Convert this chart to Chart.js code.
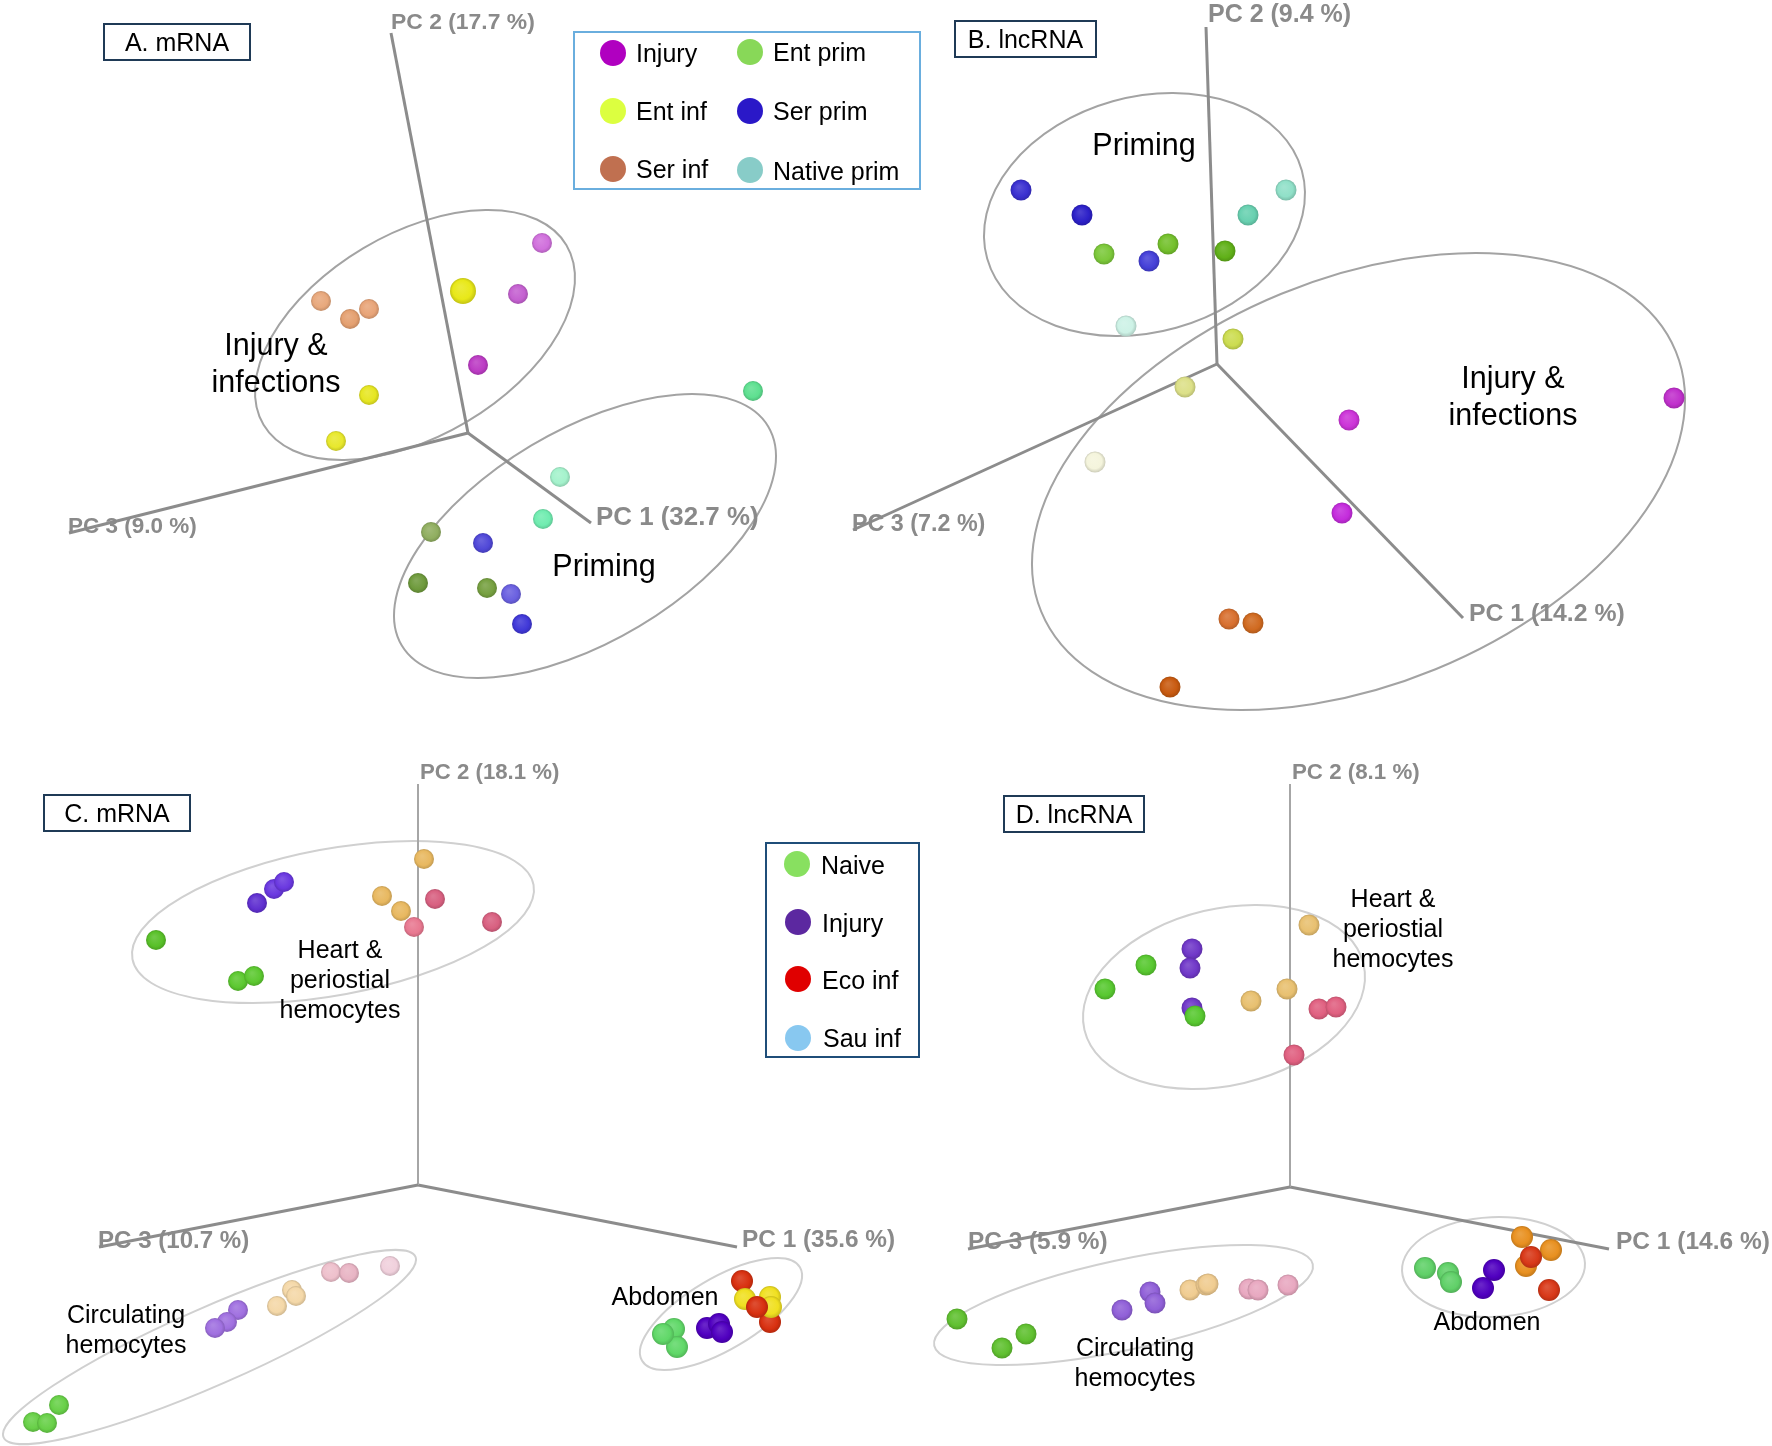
<!DOCTYPE html>
<html>
<head>
<meta charset="utf-8">
<title>PCA of hemocyte transcriptomes</title>
<script src="https://cdn.jsdelivr.net/npm/chart.js@4"></script>
<style>
    html, body { margin: 0; padding: 0; background: #fff; }
    #page { position: relative; width: 1772px; height: 1446px; overflow: hidden; font-family: "Liberation Sans", Arial, sans-serif; color: #000; }
    canvas { position: absolute; }
    #page div { position: absolute; white-space: nowrap; }
    .pc { font-size: 22.5px; font-weight: bold; color: #8a8a8a; transform: translateY(-50%); }
    .title { box-sizing: border-box; border: 2px solid #1f3a56; font-size: 25px; display: flex; align-items: center; justify-content: center; }
    .big { font-size: 30.5px; line-height: 37px; text-align: center; transform: translate(-50%, -50%); }
    .small { font-size: 25px; line-height: 30px; text-align: center; transform: translate(-50%, -50%); }
    .legend { box-sizing: border-box; }
    .dot { width: 26px; height: 26px; border-radius: 50%; transform: translate(-50%, -50%); }
    .key { font-size: 25px; transform: translateY(-50%); }
</style>
</head>
<body>
<div id="page">
    <canvas id="panelA" width="820" height="730" style="left:0;top:0"></canvas>
    <canvas id="panelB" width="952" height="730" style="left:820px;top:0"></canvas>
    <canvas id="panelC" width="860" height="716" style="left:0;top:730px"></canvas>
    <canvas id="panelD" width="912" height="716" style="left:860px;top:730px"></canvas>

    <div class="title" style="left:103px;top:23px;width:148px;height:38px">A. mRNA</div>
    <div class="title" style="left:954px;top:20px;width:143px;height:38px">B. lncRNA</div>
    <div class="title" style="left:43px;top:794px;width:148px;height:38px">C. mRNA</div>
    <div class="title" style="left:1003px;top:795px;width:142px;height:38px">D. lncRNA</div>

    <div class="pc" style="left:391px;top:21px;font-size:22.9px">PC 2 (17.7 %)</div>
    <div class="pc" style="left:596px;top:516px;font-size:25.9px">PC 1 (32.7 %)</div>
    <div class="pc" style="left:68px;top:526px;font-size:22.5px">PC 3 (9.0 %)</div>
    <div class="pc" style="left:1208px;top:13px;font-size:25px">PC 2 (9.4 %)</div>
    <div class="pc" style="left:1469px;top:613px;font-size:24.8px">PC 1 (14.2 %)</div>
    <div class="pc" style="left:852px;top:523px;font-size:23.3px">PC 3 (7.2 %)</div>
    <div class="pc" style="left:420px;top:772px;font-size:22.2px">PC 2 (18.1 %)</div>
    <div class="pc" style="left:742px;top:1239px;font-size:24.4px">PC 1 (35.6 %)</div>
    <div class="pc" style="left:98px;top:1240px;font-size:24.1px">PC 3 (10.7 %)</div>
    <div class="pc" style="left:1292px;top:772px;font-size:22.3px">PC 2 (8.1 %)</div>
    <div class="pc" style="left:1616px;top:1241px;font-size:24.5px">PC 1 (14.6 %)</div>
    <div class="pc" style="left:968px;top:1241px;font-size:24.4px">PC 3 (5.9 %)</div>

    <div class="big" style="left:276px;top:363px">Injury &amp;<br>infections</div>
    <div class="big" style="left:604px;top:565px">Priming</div>
    <div class="big" style="left:1144px;top:144px">Priming</div>
    <div class="big" style="left:1513px;top:396px">Injury &amp;<br>infections</div>

    <div class="small" style="left:340px;top:979px">Heart &amp;<br>periostial<br>hemocytes</div>
    <div class="small" style="left:126px;top:1329px">Circulating<br>hemocytes</div>
    <div class="small" style="left:665px;top:1296px">Abdomen</div>
    <div class="small" style="left:1393px;top:928px">Heart &amp;<br>periostial<br>hemocytes</div>
    <div class="small" style="left:1135px;top:1362px">Circulating<br>hemocytes</div>
    <div class="small" style="left:1487px;top:1321px">Abdomen</div>

    <div class="legend" style="left:573px;top:31px;width:348px;height:159px;border:2.5px solid #6aaede"></div>
    <div class="dot" style="left:613px;top:53px;background:#b000c0"></div>
    <div class="key" style="left:636px;top:53px">Injury</div>
    <div class="dot" style="left:750px;top:52px;background:#88d858"></div>
    <div class="key" style="left:773px;top:52px">Ent prim</div>
    <div class="dot" style="left:613px;top:111px;background:#dcff40"></div>
    <div class="key" style="left:636px;top:111px">Ent inf</div>
    <div class="dot" style="left:750px;top:111px;background:#2a18c8"></div>
    <div class="key" style="left:773px;top:111px">Ser prim</div>
    <div class="dot" style="left:613px;top:169px;background:#c07050"></div>
    <div class="key" style="left:636px;top:169px">Ser inf</div>
    <div class="dot" style="left:750px;top:170px;background:#88ccc8"></div>
    <div class="key" style="left:773px;top:171px">Native prim</div>

    <div class="legend" style="left:765px;top:842px;width:155px;height:216px;border:2.5px solid #1f4e79"></div>
    <div class="dot" style="left:797px;top:864px;background:#88e060"></div>
    <div class="key" style="left:821px;top:865px">Naive</div>
    <div class="dot" style="left:798px;top:922px;background:#5c28a0"></div>
    <div class="key" style="left:822px;top:923px">Injury</div>
    <div class="dot" style="left:798px;top:979px;background:#e00000"></div>
    <div class="key" style="left:822px;top:980px">Eco inf</div>
    <div class="dot" style="left:798px;top:1038px;background:#88c8f0"></div>
    <div class="key" style="left:823px;top:1038px">Sau inf</div>
</div>

<script>
// projected scores, one list per group, origin of each panel = where the PC axes meet
// hull lists are [center x, center y, half width, half height, x offset of the top point]

// A. mRNA
const aAxis1 = [[0, 0], [123, -90]];
const aAxis2 = [[0, 0], [-77, 400]];
const aAxis3 = [[0, 0], [-399, -100]];
const aInjury = [[74, 190], [50, 139], [10, 68]];
const aEntInf = [[-5, 142], [-99, 38], [-132, -8]];
const aSerInf = [[-147, 132], [-99, 124], [-118, 114]];
const aEntPrim = [[-37, -99], [-50, -150], [19, -155]];
const aSerPrim = [[15, -110], [43, -161], [54, -191]];
const aNativePrim = [[285, 42], [92, -44], [75, -86]];
const aHullInfection = [-53, 98, 160, 125, 73];
const aHullPriming = [117, -103, 191, 142, 107];

// B. lncRNA
const bAxis1 = [[0, 0], [246, -254]];
const bAxis2 = [[0, 0], [-11, 337]];
const bAxis3 = [[0, 0], [-364, -166]];
const bInjury = [[132, -56], [125, -149], [457, -34]];
const bEntInf = [[16, 25], [-32, -23], [-122, -98]];
const bSerInf = [[12, -255], [36, -259], [-47, -323]];
const bEntPrim = [[-113, 110], [-49, 120], [8, 113]];
const bSerPrim = [[-196, 174], [-135, 149], [-68, 103]];
const bNativePrim = [[69, 174], [31, 149], [-91, 38]];
const bHullPriming = [-72.5, 149.5, 160.5, 121.5, 27.5];
const bHullInfection = [141.5, -117.5, 326.5, 228.5, 117.5];

// C. mRNA
const cAxis1 = [[0, 0], [319, -62]];
const cAxis2 = [[0, 0], [0, 401]];
const cAxis3 = [[0, 0], [-319, -62]];
const cHeartNaive = [[-262, 245], [-180, 204], [-164, 209]];
const cHeartInjury = [[-161, 282], [-144, 296], [-134, 303]];
const cHeartSau = [[6, 326], [-36, 289], [-17, 274]];
const cHeartEco = [[17, 286], [74, 263], [-4, 258]];
const cCircNaive = [[-359, -220], [-385, -237], [-371, -238]];
const cCircInjury = [[-180, -125], [-191, -137], [-203, -143]];
const cCircSau = [[-126, -105], [-122, -111], [-141, -121]];
const cCircEco = [[-87, -87], [-69, -88], [-28, -81]];
const cAbdNaive = [[256, -144], [259, -162], [245, -149]];
const cAbdInjury = [[289, -143], [301, -139], [304, -147]];
const cAbdEcoBack = [[324, -96], [352, -137]];
const cAbdSau = [[352, -112], [353, -122], [327, -114]];
const cAbdEcoFront = [[339, -122]];
const cHullHeart = [-85, 263, 201, 81, 80];
const cHullCirc = [-208.5, -162, 206.5, 97, 186];
const cHullAbd = [303, -129, 81, 56, 56];

// D. lncRNA
const dAxis1 = [[0, 0], [319, -62]];
const dAxis2 = [[0, 0], [0, 403]];
const dAxis3 = [[0, 0], [-322, -62]];
const dHeartInjury = [[-98, 238], [-100, 219], [-98, 179]];
const dHeartNaive = [[-185, 198], [-144, 222], [-95, 171]];
const dHeartSau = [[19, 262], [-39, 186], [-3, 198]];
const dHeartEco = [[29, 178], [46, 180], [4, 132]];
const dCircNaive = [[-333, -132], [-288, -161], [-264, -147]];
const dCircInjury = [[-168, -123], [-140, -105], [-135, -116]];
const dCircSau = [[-100, -103], [-84, -98], [-82, -97]];
const dCircEco = [[-41, -102], [-32, -103], [-2, -98]];
const dAbdNaive = [[135, -81], [158, -86], [161, -95]];
const dAbdInjury = [[204, -83], [193, -101]];
const dAbdSau = [[232, -50], [261, -63], [236, -79]];
const dAbdEco = [[241, -70], [259, -103]];
const dHullHeart = [-66, 190, 141, 92, 31];
const dHullCirc = [-166.5, -118, 189.5, 60, 121.5];
const dHullAbd = [203.5, -80, 91.5, 50, 5];

const shade = (hex, k) => {
    const n = parseInt(hex.slice(1), 16);
    const mix = (c) => Math.round(k < 0 ? c * (1 + k) : c + (255 - c) * k);
    return `rgb(${mix(n >> 16)},${mix((n >> 8) & 255)},${mix(n & 255)})`;
};

// points get a soft radial fill so they read as the spheres of the 3D plot
const sphereFill = (colors, radius) => (ctx) => {
    const color = colors[ctx.dataIndex] ?? colors[0];
    if (!ctx.parsed) return color;
    const x = ctx.chart.scales.x.getPixelForValue(ctx.parsed.x);
    const y = ctx.chart.scales.y.getPixelForValue(ctx.parsed.y);
    // scales have no pixels yet on the first pass
    if (!Number.isFinite(x) || !Number.isFinite(y)) return color;
    const g = ctx.chart.ctx.createRadialGradient(x - radius * 0.2, y - radius * 0.3, radius * 0.1, x, y, radius);
    g.addColorStop(0, shade(color, 0.14));
    g.addColorStop(0.7, color);
    g.addColorStop(1, shade(color, -0.16));
    return g;
};

const toXY = (pts) => pts.map(([x, y]) => ({ x, y }));

const spheres = (label, pts, colors, radius = 10.5) => ({
    label,
    data: toXY(pts),
    showLine: false,
    pointRadius: radius,
    pointBorderWidth: 0,
    pointBackgroundColor: sphereFill(colors, radius),
});

const axisLine = (label, pts, color = '#8c8c8c', width = 3) => ({
    label,
    data: toXY(pts),
    showLine: true,
    pointRadius: 0,
    borderColor: color,
    borderWidth: width,
});

// group outlines: ellipse worked out from its bounding box and top point, placed through the scales
const hullPlugin = {
    id: 'hulls',
    beforeDatasetsDraw(chart, args, opts) {
        const { ctx, scales } = chart;
        const ux = scales.x.getPixelForValue(1) - scales.x.getPixelForValue(0);
        const uy = scales.y.getPixelForValue(0) - scales.y.getPixelForValue(1);
        ctx.save();
        ctx.strokeStyle = opts.color;
        ctx.lineWidth = 2;
        opts.items.forEach(([cx, cy, w, h, topDx]) => {
            const a = w * w;
            const c = h * h;
            const b = topDx * h;
            const mid = (a + c) / 2;
            const spread = Math.hypot((a - c) / 2, b);
            const rot = 0.5 * Math.atan2(2 * b, a - c);
            ctx.beginPath();
            ctx.ellipse(
                scales.x.getPixelForValue(cx),
                scales.y.getPixelForValue(cy),
                Math.sqrt(mid + spread) * ux,
                Math.sqrt(mid - spread) * uy,
                -rot, 0, Math.PI * 2,
            );
            ctx.stroke();
        });
        ctx.restore();
    },
};

const createPanel = (id, xRange, yRange, hulls, hullColor, datasets) => {
    // chart.js paints low order on top, so later datasets get a lower order
    datasets.forEach((d, i) => { d.order = datasets.length - i; });
    return new Chart(document.getElementById(id), {
        type: 'scatter',
        data: { datasets },
        plugins: [hullPlugin],
        options: {
            responsive: false,
            animation: false,
            events: [],
            layout: { padding: 0, autoPadding: false },
            scales: {
                x: { type: 'linear', display: false, min: xRange[0], max: xRange[1] },
                y: { type: 'linear', display: false, min: yRange[0], max: yRange[1] },
            },
            plugins: {
                legend: { display: false },
                tooltip: { enabled: false },
                hulls: { items: hulls, color: hullColor },
            },
        },
    });
};

const HULL_DARK = '#a3a3a3';
const HULL_PALE = '#d0d0d0';

createPanel('panelA', [-468, 352], [-297, 433], [aHullInfection, aHullPriming], HULL_DARK, [
    axisLine('PC 1', aAxis1),
    axisLine('PC 2', aAxis2),
    axisLine('PC 3', aAxis3),
    spheres('Injury', aInjury, ['#d070dc', '#c460d0', '#bc3cc4'], 10),
    spheres('Ent inf', [aEntInf[0]], ['#e8e818'], 13),
    spheres('Ent inf', aEntInf.slice(1), ['#e6e622', '#e8e82c'], 10),
    spheres('Ser inf', aSerInf, ['#e8a87c', '#e8a478', '#e4a070'], 10),
    spheres('Ent prim', aEntPrim, ['#90ae60', '#6e9a3c', '#76a040'], 10),
    spheres('Ser prim', aSerPrim, ['#5048d8', '#6a60e0', '#4038d8'], 10),
    spheres('Native prim', aNativePrim, ['#5ee090', '#a4f2cc', '#70ecb0'], 10),
]);

createPanel('panelB', [-397, 555], [-366, 364], [bHullPriming, bHullInfection], HULL_DARK, [
    axisLine('PC 1', bAxis1),
    axisLine('PC 2', bAxis2),
    axisLine('PC 3', bAxis3),
    spheres('Injury', bInjury, ['#cc34d8', '#c42cdc', '#c030cc']),
    spheres('Ent inf', bEntInf, ['#ccdc50', '#dce088', '#f4f4dc']),
    spheres('Ser inf', bSerInf, ['#d87030', '#d06a20', '#c85a10']),
    spheres('Ent prim', bEntPrim, ['#7cc83a', '#74c02c', '#60b018']),
    spheres('Ser prim', bSerPrim, ['#3a30d0', '#2c20c8', '#4540d8']),
    spheres('Native prim', bNativePrim, ['#90e0c8', '#68d0b0', '#cdf2e6']),
]);

createPanel('panelC', [-418, 442], [-261, 455], [cHullHeart, cHullCirc, cHullAbd], HULL_PALE, [
    axisLine('PC 1', cAxis1),
    axisLine('PC 2', cAxis2, '#a6a6a6', 2),
    axisLine('PC 3', cAxis3),
    spheres('Naive', cHeartNaive, ['#58c028', '#5cc830', '#5cc830'], 10),
    spheres('Injury', cHeartInjury, ['#6030d0', '#6a38e0', '#6a38e0'], 10),
    spheres('Sau inf', cHeartSau, ['#e8b860', '#e8b860', '#e8b860'], 10),
    spheres('Eco inf', cHeartEco, ['#d86080', '#d86080', '#e87890'], 10),
    spheres('Naive', cCircNaive, ['#68d048'], 10),
    spheres('Injury', cCircInjury, ['#a070e0'], 10),
    spheres('Sau inf', cCircSau, ['#f4d8a8'], 10),
    spheres('Eco inf', cCircEco, ['#eec0cc', '#e8b4c4', '#f0d0dc'], 10),
    spheres('Naive', cAbdNaive, ['#60d868'], 11),
    spheres('Injury', cAbdInjury, ['#5000c0'], 11),
    spheres('Eco inf', cAbdEcoBack, ['#d83010'], 11),
    spheres('Sau inf', cAbdSau, ['#f0e020'], 11),
    spheres('Eco inf', cAbdEcoFront, ['#d83010'], 11),
]);

createPanel('panelD', [-430, 482], [-259, 457], [dHullHeart, dHullCirc, dHullAbd], HULL_PALE, [
    axisLine('PC 1', dAxis1),
    axisLine('PC 2', dAxis2, '#a6a6a6', 2),
    axisLine('PC 3', dAxis3),
    spheres('Injury', dHeartInjury, ['#7038c8']),
    spheres('Naive', dHeartNaive, ['#58c830']),
    spheres('Sau inf', dHeartSau, ['#e8c070']),
    spheres('Eco inf', dHeartEco, ['#e06080']),
    spheres('Naive', dCircNaive, ['#60c030']),
    spheres('Injury', dCircInjury, ['#9060d8']),
    spheres('Sau inf', dCircSau, ['#f0cc90']),
    spheres('Eco inf', dCircEco, ['#e8a8c0']),
    spheres('Naive', dAbdNaive, ['#60d068'], 11),
    spheres('Injury', dAbdInjury, ['#5000c0'], 11),
    spheres('Sau inf', dAbdSau, ['#e89020'], 11),
    spheres('Eco inf', dAbdEco, ['#d83818'], 11),
]);
</script>
</body>
</html>
